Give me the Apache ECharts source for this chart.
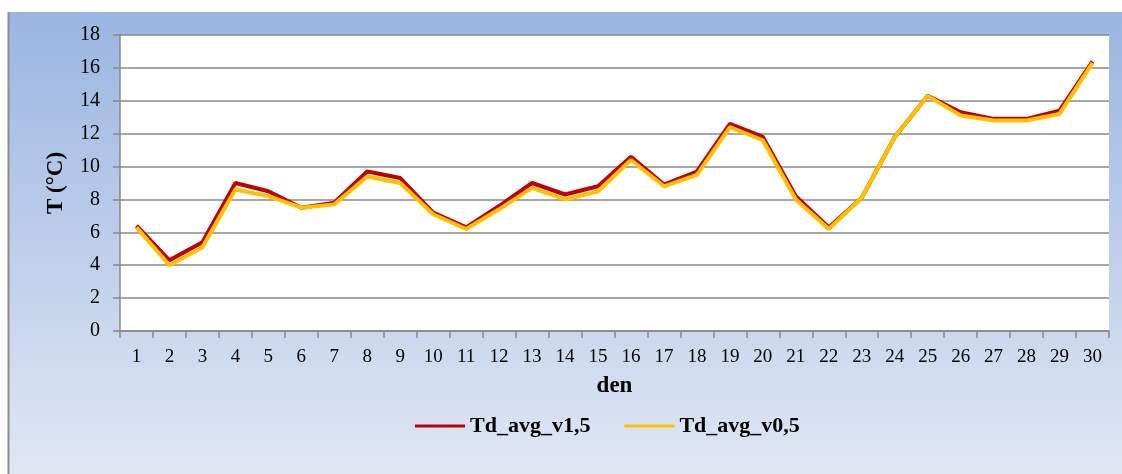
<!DOCTYPE html>
<html>
<head>
<meta charset="utf-8">
<script src="https://cdn.jsdelivr.net/npm/echarts@6/dist/echarts.min.js"></script>
<style>
  html, body { margin: 0; padding: 0; background: #fff; }
  #main { width: 1122px; height: 474px; }
</style>
</head>
<body>
<div id="main"></div>
<script>
// days 1..30
let days = ["1","2","3","4","5","6","7","8","9","10","11","12","13","14","15",
            "16","17","18","19","20","21","22","23","24","25","26","27","28","29","30"]

let tdV15 = [6.4,4.3,5.4,9.0,8.5,7.5,7.8,9.7,9.3,7.2,6.3,7.6,9.0,8.3,8.8,
             10.6,8.9,9.7,12.6,11.8,8.2,6.3,8.1,11.8,14.3,13.3,12.9,12.9,13.4,16.4]
let tdV05 = [6.3,4.0,5.1,8.6,8.2,7.5,7.7,9.4,9.0,7.1,6.2,7.4,8.7,8.0,8.5,
             10.4,8.8,9.5,12.4,11.6,8.0,6.2,8.1,11.8,14.3,13.1,12.8,12.8,13.2,16.3]

let seriesNames = ["Td_avg_v1,5","Td_avg_v0,5"]

var myChart = echarts.init(document.getElementById('main'))

var serif = '"Liberation Serif", "DejaVu Serif", serif'

var option = {
  animation: false,
  textStyle: { fontFamily: serif },
  graphic: [
    {
      type: 'rect',
      z: -10,
      shape: { x: 8, y: 12, width: 1114, height: 462 },
      style: {
        fill: new echarts.graphic.LinearGradient(0, 0, 0, 1, [
          { offset: 0, color: '#9ab5e1' },
          { offset: 1, color: '#e0e7f4' }
        ])
      }
    },
    {
      type: 'line',
      z: -9,
      shape: { x1: 8.5, y1: 12, x2: 8.5, y2: 474 },
      style: { stroke: '#8c8c8c', lineWidth: 2 }
    }
  ],
  grid: {
    left: 120, right: 13, top: 35, bottom: 143,
    show: true, backgroundColor: '#fff', borderWidth: 0
  },
  legend: {
    data: seriesNames,
    bottom: 32,
    left: 410,
    itemWidth: 50,
    itemHeight: 3,
    itemGap: 34,
    icon: 'rect',
    textStyle: { fontFamily: serif, fontSize: 22, fontWeight: 'bold', color: '#000' }
  },
  xAxis: {
    type: 'category',
    data: days,
    boundaryGap: true,
    name: 'den',
    nameLocation: 'middle',
    nameGap: 44,
    nameTextStyle: { fontFamily: serif, fontSize: 23, fontWeight: 'bold', color: '#000' },
    axisLine: { lineStyle: { color: '#888', width: 1.5 } },
    axisTick: { show: true, length: 7, alignWithLabel: false, lineStyle: { color: '#888', width: 1.5 } },
    axisLabel: { fontFamily: serif, fontSize: 19, color: '#000', margin: 17, interval: 0 },
    splitLine: { show: false }
  },
  yAxis: {
    type: 'value',
    min: 0, max: 18, interval: 2,
    name: 'T (°C)',
    nameLocation: 'middle',
    nameGap: 52,
    nameRotate: 90,
    nameTextStyle: { fontFamily: serif, fontSize: 23, fontWeight: 'bold', color: '#000' },
    axisLine: { show: true, lineStyle: { color: '#888', width: 1.5 } },
    axisTick: { show: true, length: 7, lineStyle: { color: '#888', width: 1.5 } },
    axisLabel: { fontFamily: serif, fontSize: 20, color: '#000', margin: 20 },
    splitLine: { show: true, lineStyle: { color: '#888', width: 1.5 } }
  },
  series: [
    {
      name: seriesNames[0],
      type: 'line',
      data: tdV15,
      symbol: 'none',
      color: '#c00000',
      lineStyle: { width: 4, color: '#c00000' }
    },
    {
      name: seriesNames[1],
      type: 'line',
      data: tdV05,
      symbol: 'none',
      color: '#ffc000',
      lineStyle: { width: 4, color: '#ffc000' }
    }
  ]
}

myChart.setOption(option)
</script>
</body>
</html>
